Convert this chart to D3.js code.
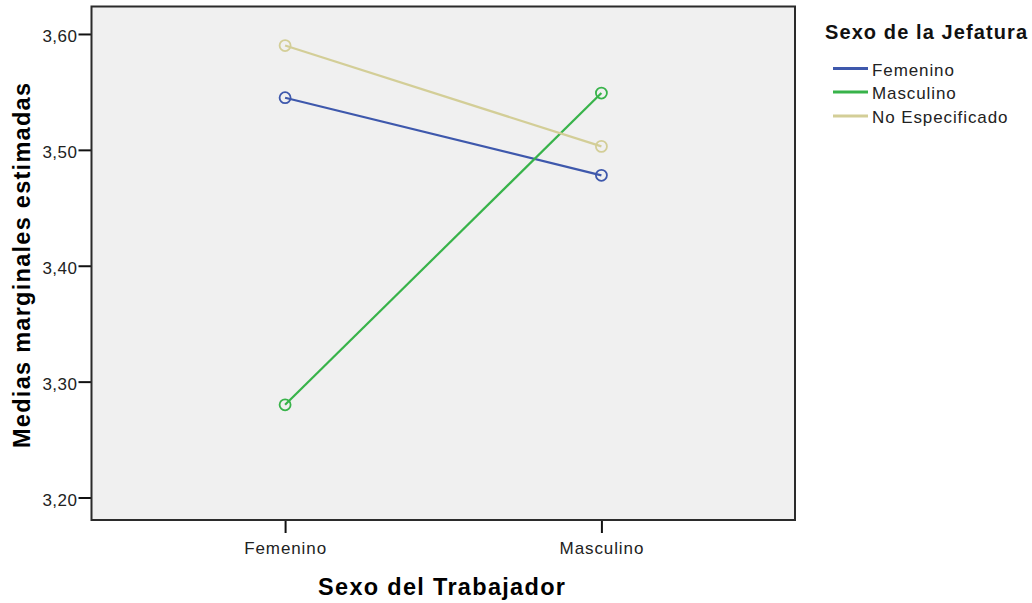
<!DOCTYPE html>
<html>
<head>
<meta charset="utf-8">
<script src="https://cdn.jsdelivr.net/npm/d3@7"></script>
<style>
  html, body { margin: 0; padding: 0; background: #ffffff; }
  svg { display: block; }
</style>
</head>
<body>
<svg id="chart" width="1032" height="603"></svg>
<script>
// Levels of the x-axis factor
const categories = ["Femenino", "Masculino"];
// Series: sex of the head of household
const seriesNames = ["Femenino", "Masculino", "No Especificado"];
const femeninoValues = [3.545, 3.478];
const masculinoValues = [3.280, 3.549];
const noEspecificadoValues = [3.590, 3.503];
const seriesColors = ["#3E58AC", "#38B34A", "#D3CE97"];
const yTickValues = [3.20, 3.30, 3.40, 3.50, 3.60];

const seriesValues = [femeninoValues, masculinoValues, noEspecificadoValues];

const svg = d3.select("#chart");
const plot = { left: 91.5, right: 795, top: 6.5, bottom: 520 };

const x = d3.scalePoint()
  .domain(categories)
  .range([plot.left, plot.right])
  .padding(0.612);

const y = d3.scaleLinear()
  .domain([3.1806, 3.6237])
  .range([plot.bottom, plot.top]);

const fmt = v => d3.format(".2f")(v).replace(".", ",");

// Plot background
svg.append("rect")
  .attr("x", plot.left).attr("y", plot.top)
  .attr("width", plot.right - plot.left)
  .attr("height", plot.bottom - plot.top)
  .attr("fill", "#F0F0F0");

// Y axis
const yAxis = svg.append("g")
  .attr("transform", `translate(${plot.left},0)`)
  .call(d3.axisLeft(y).tickValues(yTickValues).tickFormat(fmt).tickSizeOuter(0).tickSize(13).tickPadding(1));
yAxis.select(".domain").remove();
yAxis.selectAll(".tick line").attr("stroke", "#111").attr("stroke-width", 2);
yAxis.selectAll(".tick text")
  .attr("dy", "0.45em")
  .attr("fill", "#222")
  .style("font-family", "'Liberation Sans', Arial, sans-serif")
  .style("font-size", "17px")
  .style("letter-spacing", "0.5px");

// X axis
const xAxis = svg.append("g")
  .attr("transform", `translate(0,${plot.bottom})`)
  .call(d3.axisBottom(x).tickSizeOuter(0).tickSize(13).tickPadding(9));
xAxis.select(".domain").remove();
xAxis.selectAll(".tick line").attr("stroke", "#111").attr("stroke-width", 2);
xAxis.selectAll(".tick text")
  .attr("fill", "#222")
  .style("font-family", "'Liberation Sans', Arial, sans-serif")
  .style("font-size", "17px")
  .style("letter-spacing", "0.9px");

// Frame
svg.append("rect")
  .attr("x", plot.left).attr("y", plot.top)
  .attr("width", plot.right - plot.left)
  .attr("height", plot.bottom - plot.top)
  .attr("fill", "none")
  .attr("stroke", "#2b2b2b")
  .attr("stroke-width", 2);

// Series lines and markers
const line = d3.line()
  .x((d, i) => x(categories[i]))
  .y(d => y(d));

seriesValues.forEach((vals, s) => {
  svg.append("path")
    .datum(vals)
    .attr("d", line)
    .attr("fill", "none")
    .attr("stroke", seriesColors[s])
    .attr("stroke-width", 2.2);
  svg.selectAll(null)
    .data(vals)
    .enter().append("circle")
    .attr("cx", (d, i) => x(categories[i]))
    .attr("cy", d => y(d))
    .attr("r", 5.5)
    .attr("fill", "none")
    .attr("stroke", seriesColors[s])
    .attr("stroke-width", 1.8);
});

// Axis titles
svg.append("text")
  .attr("x", 441.5).attr("y", 595)
  .attr("text-anchor", "middle")
  .attr("textLength", 247).attr("lengthAdjust", "spacing")
  .style("font-family", "'Liberation Sans', Arial, sans-serif")
  .style("font-size", "23.5px").style("font-weight", "bold")
  .attr("fill", "#000")
  .text("Sexo del Trabajador");

svg.append("text")
  .attr("transform", "translate(30,265.5) rotate(-90)")
  .attr("text-anchor", "middle")
  .attr("textLength", 365).attr("lengthAdjust", "spacing")
  .style("font-family", "'Liberation Sans', Arial, sans-serif")
  .style("font-size", "23.5px").style("font-weight", "bold")
  .attr("fill", "#000")
  .text("Medias marginales estimadas");

// Legend
const legend = svg.append("g");
legend.append("text")
  .attr("x", 825).attr("y", 39)
  .attr("textLength", 202).attr("lengthAdjust", "spacing")
  .style("font-family", "'Liberation Sans', Arial, sans-serif")
  .style("font-size", "20px").style("font-weight", "bold")
  .attr("fill", "#111")
  .text("Sexo de la Jefatura");

const legendRows = [68.5, 92, 116];
seriesNames.forEach((name, i) => {
  legend.append("line")
    .attr("x1", 833).attr("x2", 868)
    .attr("y1", legendRows[i]).attr("y2", legendRows[i])
    .attr("stroke", seriesColors[i])
    .attr("stroke-width", 3);
  legend.append("text")
    .attr("x", 872).attr("y", legendRows[i] + 7)
    .style("font-family", "'Liberation Sans', Arial, sans-serif")
    .style("font-size", "17px")
    .style("letter-spacing", "0.9px")
    .attr("fill", "#222")
    .text(name);
});
</script>
</body>
</html>
